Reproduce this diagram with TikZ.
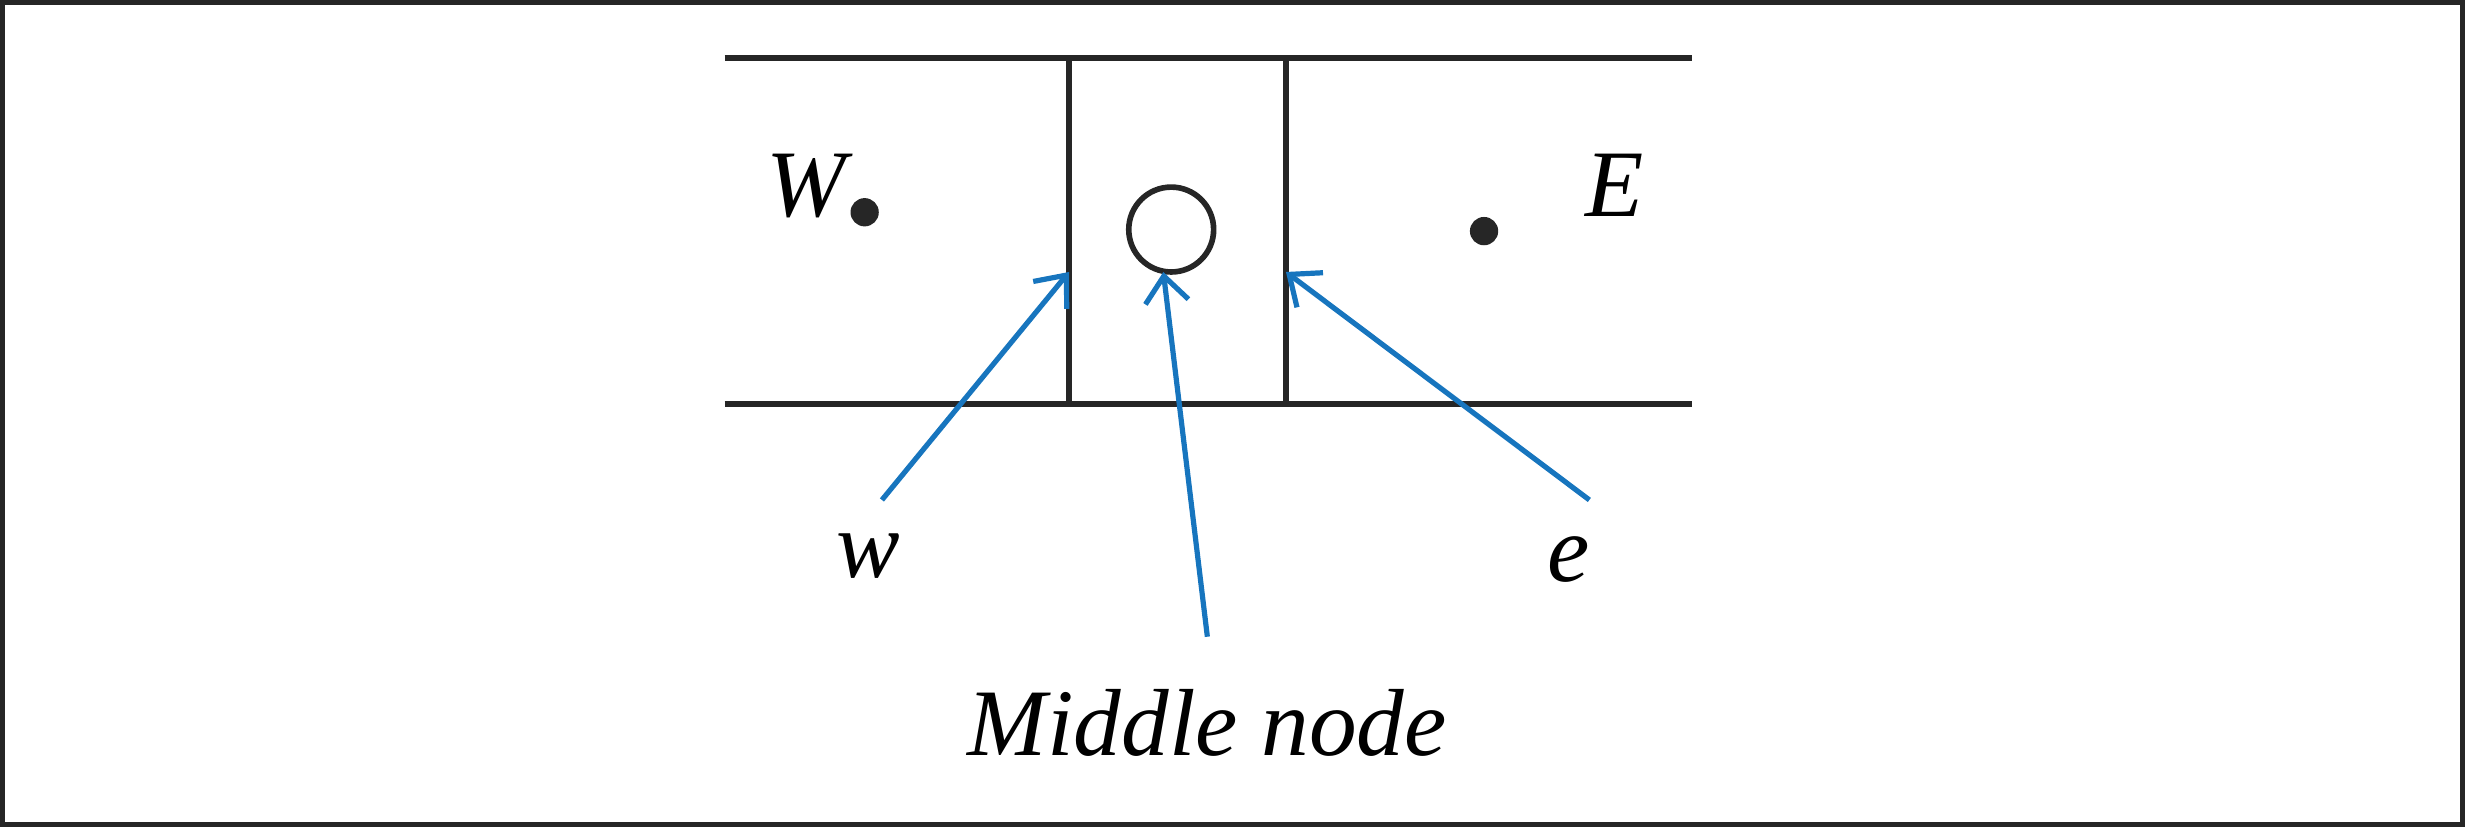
\documentclass[tikz,border=0pt]{standalone}
\usepackage{fontspec}
\setmainfont{Liberation Serif}
\usetikzlibrary{positioning,arrows.meta}
\begin{document}
\begin{tikzpicture}[x=0.01276cm,y=-0.01276cm,
  wall/.style={line width=1.3pt,black!85},
  pointer/.style={-{Straight Barb[length=6pt,width=10pt]},line width=1.2pt,draw={rgb,255:red,23;green,117;blue,190}},
  lbl/.style={font=\fontsize{22}{26}\selectfont\itshape,inner sep=0pt}]
% Frame and bounding box
  \useasboundingbox (0,0) rectangle (1568,526);
  \draw[line width=1.6pt,black!85] (1,1) rectangle (1567,525);
% Channel outline
  \draw[wall] (461,37) -- (1076,37);
  \draw[wall] (461,257) -- (1076,257);
  \draw[wall] (680,37) -- (680,257);
  \draw[wall] (818,37) -- (818,257);
% Points
  \fill[black!85] (550,135) circle (9);
  \fill[black!85] (944,147) circle (9);
  \draw[wall] (745,146) circle (27);
  \node[lbl] (W) at (513,118) {W};
  \node[lbl] (E) at (1027,118) {E};
% Face labels
  \node[lbl] (w) at (552,354) {w};
  \node[lbl] (e) at (998,356) {e};
  \node[lbl] (mid) at (768,460) {Middle node};
% Pointers
  \coordinate (wface) at (680,173);
  \coordinate (eface) at (818,173);
  \coordinate (pnode) at (740,173);
  \coordinate (mfoot) at (768,405);
  \draw[pointer] (561,318) -- (wface);
  \draw[pointer] (mfoot) -- (pnode);
  \draw[pointer] (1011,318) -- (eface);
\end{tikzpicture}
\end{document}
